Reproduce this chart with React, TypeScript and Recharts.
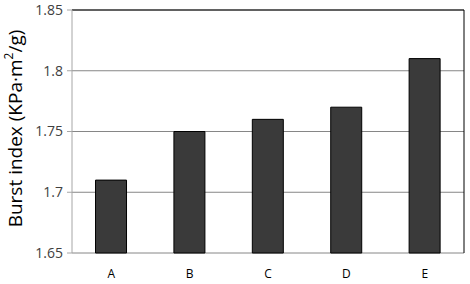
import { Bar, BarChart, CartesianGrid, ReferenceLine, XAxis, YAxis } from "recharts";

const samples = ["A", "B", "C", "D", "E"];
const burstIndex = [1.71, 1.75, 1.76, 1.77, 1.81];
const yTicks = [1.65, 1.7, 1.75, 1.8, 1.85];
const slotTicks = [0, 1, 2, 3, 4, 5];

const data = samples.map((name, i) => ({ name, value: burstIndex[i] }));

const FONT = "'Open Sans', 'DejaVu Sans', sans-serif";

function YLabel(props: any) {
  const vb = props.viewBox || {};
  const cx = 15;
  const cy = (vb.y ?? 0) + (vb.height ?? 0) / 2 - 3;
  return (
    <text
      x={cx}
      y={cy}
      transform={`rotate(-90, ${cx}, ${cy})`}
      textAnchor="middle"
      dominantBaseline="central"
      fill="#000"
      fontSize={19}
      fontFamily={FONT}
    >
      Burst index (KPa·m
      <tspan dy={-7} fontSize={12}>2</tspan>
      <tspan dy={7}>/g)</tspan>
    </text>
  );
}

export default function App() {
  return (
    <div style={{ position: "absolute", left: 0, top: 0, background: "#fff" }}>
      <BarChart
        width={470}
        height={284}
        data={data}
        margin={{ top: 10, right: 0, bottom: 0, left: 0 }}
        barCategoryGap="30%"
        style={{ fontFamily: FONT }}
      >
        <CartesianGrid vertical={false} stroke="#868686" strokeWidth={1} />
        <XAxis
          xAxisId="slots"
          type="number"
          domain={[0, 5]}
          ticks={slotTicks}
          tick={false}
          height={0}
          tickSize={6}
          axisLine={{ stroke: "#a6a6a6" }}
          tickLine={{ stroke: "#a6a6a6" }}
        />
        <XAxis
          dataKey="name"
          height={31}
          axisLine={false}
          tickLine={false}
          tickMargin={10}
          tick={{ fontSize: 12, fill: "#000" }}
        />
        <YAxis
          domain={[1.65, 1.85]}
          ticks={yTicks}
          interval={0}
          width={72}
          tickSize={5}
          tickMargin={4}
          axisLine={{ stroke: "#a6a6a6" }}
          tickLine={{ stroke: "#a6a6a6" }}
          tick={{ fontSize: 14, fill: "#404040" }}
          label={<YLabel />}
        />
        <YAxis
          yAxisId="frame"
          orientation="right"
          width={6}
          tick={false}
          tickLine={false}
          axisLine={{ stroke: "#000" }}
        />
        <ReferenceLine y={1.85} stroke="#000" />
        <Bar
          dataKey="value"
          fill="#3a3a3a"
          stroke="#000"
          strokeWidth={1}
          isAnimationActive={false}
        />
      </BarChart>
    </div>
  );
}
